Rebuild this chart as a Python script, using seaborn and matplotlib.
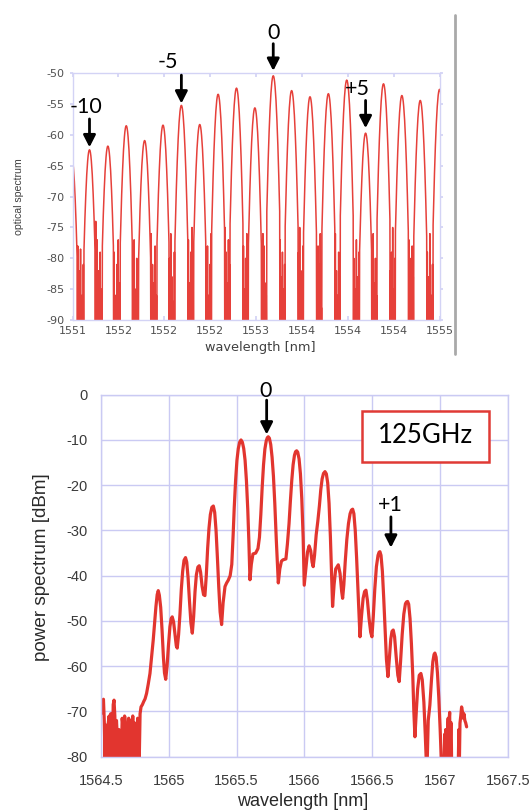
import numpy as np
import pandas as pd
import matplotlib
matplotlib.use("Agg")
import matplotlib.pyplot as plt
import seaborn as sns
from matplotlib.lines import Line2D
from matplotlib.patches import Rectangle

sns.set_theme(style="white")
plt.rcParams['font.family'] = ['DejaVu Sans']

# ---------------- top panel data ----------------
top_peak_order = [-11, -10, -9, -8, -7, -6, -5, -4, -3, -2, -1, 0, 1, 2, 3, 4, 5, 6, 7, 8, 9]
top_peak_nm = [1550.990, 1551.185, 1551.385, 1551.585, 1551.785, 1551.985, 1552.185,
               1552.385, 1552.585, 1552.785, 1552.985, 1553.185, 1553.385, 1553.585,
               1553.785, 1553.985, 1554.190, 1554.385, 1554.585, 1554.785, 1554.995]
top_peak_db = [-63.5, -62.4, -61.8, -58.5, -60.9, -58.4, -55.2, -58.3, -53.4, -52.4, -55.6,
               -50.4, -52.8, -53.8, -53.3, -51.1, -59.7, -51.7, -53.6, -54.4, -52.6]
# line shape of one comb line (offset from centre, drop below top)
peak_profile_nm = [0.0, 0.005, 0.010, 0.015, 0.020, 0.025, 0.030, 0.035, 0.040, 0.045,
                   0.050, 0.055, 0.060, 0.065, 0.070]
peak_profile_db = [0.0, 0.1, 0.45, 1.0, 1.8, 2.8, 4.0, 5.5, 7.2, 9.1,
                   11.2, 13.6, 16.2, 19.0, 22.0]
# noise floor spikes between neighbouring lines
top_noise_db = [
    [-78, -82, -78.5, -86, -81], [-74, -77, -82, -79, -85], [-79, -86, -81, -77, -84],
    [-82, -77, -85, -80, -88], [-76, -81, -84, -78, -86], [-80, -76, -83, -87, -79],
    [-77, -84, -79, -75, -82], [-83, -78, -86, -81, -76], [-75, -79, -84, -77, -81],
    [-78, -85, -80, -76, -83], [-80, -76, -78, -84, -86], [-77, -83, -79, -85, -81],
    [-79, -75, -82, -86, -78], [-84, -78, -81, -76, -88], [-76, -82, -86, -79, -83],
    [-80, -85, -77, -83, -79], [-78, -76, -84, -80, -86], [-82, -79, -75, -85, -80],
    [-77, -84, -80, -78, -83], [-79, -83, -76, -86, -81]]
top_xticks = [1551.0, 1551.5, 1552.0, 1552.5, 1553.0, 1553.5, 1554.0, 1554.5, 1555.0]
top_xticklabels = ['1551', '1552', '1552', '1552', '1553', '1554', '1554', '1554', '1555']
top_yticks = [-90, -85, -80, -75, -70, -65, -60, -55, -50]

# ---------------- bottom panel data ----------------
bot_trace = [
    (1564.500, -70.5), (1564.506, -68.0), (1564.512, -69.5), (1564.518, -67.3), (1564.524, -72.0),
    (1564.530, -80.5), (1564.536, -73.0), (1564.542, -75.0), (1564.548, -80.5), (1564.554, -72.5),
    (1564.560, -71.0), (1564.566, -80.5), (1564.572, -70.5), (1564.578, -73.5), (1564.584, -80.5),
    (1564.590, -68.5), (1564.596, -67.5), (1564.602, -71.0), (1564.608, -80.5), (1564.614, -72.0),
    (1564.620, -75.5), (1564.626, -80.5), (1564.632, -74.0), (1564.638, -80.5), (1564.644, -76.0),
    (1564.650, -80.5), (1564.656, -71.5), (1564.662, -73.0), (1564.668, -80.5), (1564.674, -71.0),
    (1564.680, -72.5), (1564.686, -80.5), (1564.692, -73.5), (1564.698, -80.5), (1564.704, -71.5),
    (1564.710, -80.5), (1564.716, -72.0), (1564.722, -74.5), (1564.728, -80.5), (1564.734, -71.0),
    (1564.740, -80.5), (1564.746, -72.5), (1564.752, -80.5), (1564.758, -74.0), (1564.764, -80.5),
    (1564.770, -71.5), (1564.776, -73.0), (1564.782, -80.5), (1564.788, -70.5), (1564.795, -69.0),
    (1564.805, -68.5), (1564.815, -67.8), (1564.825, -67.2), (1564.836, -66.0), (1564.848, -64.0),
    (1564.861, -61.6), (1564.873, -58.0), (1564.885, -54.2), (1564.896, -50.0), (1564.905, -46.8),
    (1564.914, -44.2), (1564.922, -43.3), (1564.930, -44.3), (1564.940, -47.0), (1564.950, -52.0),
    (1564.960, -58.0), (1564.968, -61.5), (1564.977, -62.9), (1564.987, -60.0), (1564.997, -55.5),
    (1565.008, -51.3), (1565.017, -49.5), (1565.025, -49.1), (1565.035, -50.2), (1565.046, -53.0),
    (1565.055, -55.5), (1565.062, -56.0), (1565.072, -53.0), (1565.082, -48.5), (1565.092, -43.0),
    (1565.102, -39.0), (1565.112, -36.6), (1565.123, -36.0), (1565.132, -37.0), (1565.142, -40.5),
    (1565.152, -45.5), (1565.163, -50.5), (1565.173, -52.7), (1565.183, -49.0), (1565.193, -43.5),
    (1565.203, -39.8), (1565.214, -38.1), (1565.224, -37.8), (1565.234, -39.2), (1565.245, -42.3),
    (1565.256, -44.2), (1565.266, -44.4), (1565.276, -40.0), (1565.286, -34.0), (1565.296, -29.5),
    (1565.306, -26.5), (1565.317, -24.9), (1565.328, -24.6), (1565.338, -26.0), (1565.348, -30.0),
    (1565.358, -36.0), (1565.368, -42.5), (1565.378, -48.0), (1565.389, -50.8), (1565.400, -46.0),
    (1565.414, -42.4), (1565.426, -41.6), (1565.438, -41.0), (1565.452, -40.0), (1565.464, -37.5),
    (1565.474, -31.0), (1565.482, -25.0), (1565.492, -19.0), (1565.502, -14.5), (1565.512, -11.9),
    (1565.522, -10.5), (1565.532, -10.0), (1565.542, -10.5), (1565.552, -11.9), (1565.562, -14.5),
    (1565.572, -19.0), (1565.582, -25.5), (1565.590, -32.5), (1565.598, -40.9), (1565.608, -37.5),
    (1565.620, -35.2), (1565.640, -35.0), (1565.657, -34.0), (1565.668, -31.5), (1565.678, -26.5),
    (1565.688, -20.5), (1565.698, -15.5), (1565.708, -12.0), (1565.718, -10.2), (1565.726, -9.5),
    (1565.733, -9.3), (1565.741, -9.6), (1565.751, -11.0), (1565.761, -13.8), (1565.771, -18.0),
    (1565.781, -24.0), (1565.792, -32.0), (1565.807, -41.6), (1565.818, -38.5), (1565.830, -36.8),
    (1565.841, -36.5), (1565.863, -36.3), (1565.874, -33.0), (1565.886, -28.5), (1565.896, -23.5),
    (1565.906, -19.0), (1565.916, -15.5), (1565.926, -13.4), (1565.934, -12.6), (1565.942, -12.4),
    (1565.950, -12.7), (1565.960, -14.2), (1565.970, -17.5), (1565.980, -23.0), (1565.990, -31.5),
    (1565.998, -42.1), (1566.010, -38.5), (1566.022, -34.8), (1566.034, -33.4), (1566.046, -34.5),
    (1566.056, -37.0), (1566.064, -38.0), (1566.074, -35.5), (1566.086, -31.0), (1566.098, -28.0),
    (1566.110, -24.5), (1566.120, -21.0), (1566.130, -18.6), (1566.140, -17.4), (1566.151, -17.0),
    (1566.161, -17.5), (1566.171, -19.5), (1566.181, -24.0), (1566.191, -31.5), (1566.199, -39.5),
    (1566.207, -46.8), (1566.218, -42.0), (1566.230, -38.5), (1566.249, -37.6), (1566.262, -39.5),
    (1566.274, -43.5), (1566.281, -45.0), (1566.290, -42.0), (1566.300, -37.0), (1566.312, -32.0),
    (1566.324, -28.5), (1566.336, -26.3), (1566.346, -25.5), (1566.355, -25.3), (1566.364, -26.3),
    (1566.374, -30.0), (1566.384, -36.0), (1566.394, -43.0), (1566.402, -49.0), (1566.409, -53.5),
    (1566.420, -49.0), (1566.432, -45.0), (1566.443, -43.5), (1566.453, -43.2), (1566.464, -45.5),
    (1566.476, -49.5), (1566.488, -52.5), (1566.497, -53.5), (1566.507, -49.0), (1566.518, -43.0),
    (1566.530, -38.0), (1566.542, -35.5), (1566.550, -34.8), (1566.556, -34.7), (1566.564, -35.5),
    (1566.574, -39.0), (1566.584, -45.0), (1566.594, -52.0), (1566.604, -58.5), (1566.615, -62.3),
    (1566.625, -58.5), (1566.636, -54.0), (1566.645, -52.3), (1566.654, -52.0), (1566.664, -53.5),
    (1566.676, -58.0), (1566.688, -62.0), (1566.698, -63.4), (1566.708, -59.0), (1566.720, -53.0),
    (1566.732, -48.5), (1566.744, -46.2), (1566.752, -45.8), (1566.760, -45.7), (1566.768, -46.3),
    (1566.778, -49.5), (1566.788, -55.0), (1566.798, -62.0), (1566.806, -70.0), (1566.814, -75.6),
    (1566.824, -70.0), (1566.834, -65.0), (1566.846, -62.0), (1566.858, -61.6), (1566.868, -63.0),
    (1566.880, -68.0), (1566.890, -75.0), (1566.897, -80.5), (1566.905, -80.5), (1566.912, -72.0),
    (1566.924, -68.6), (1566.936, -63.0), (1566.946, -59.0), (1566.955, -57.4), (1566.961, -57.1),
    (1566.970, -58.0), (1566.980, -61.5), (1566.990, -67.0), (1567.000, -74.0), (1567.008, -80.5),
    (1567.030, -80.5), (1567.034, -75.0), (1567.038, -80.5), (1567.041, -74.0), (1567.045, -80.5),
    (1567.049, -76.0), (1567.053, -80.5), (1567.056, -73.5), (1567.059, -71.5), (1567.062, -80.5),
    (1567.066, -72.0), (1567.070, -70.2), (1567.073, -80.5), (1567.077, -73.0), (1567.081, -72.5),
    (1567.084, -80.5), (1567.134, -80.5), (1567.138, -74.0), (1567.142, -80.5), (1567.146, -72.6),
    (1567.152, -71.0), (1567.158, -69.0), (1567.164, -70.0), (1567.170, -71.5), (1567.175, -70.5),
    (1567.182, -72.0), (1567.188, -72.5), (1567.195, -73.4)]
bot_xticks = [1564.5, 1565.0, 1565.5, 1566.0, 1566.5, 1567.0, 1567.5]
bot_xticklabels = ['1564.5', '1565', '1565.5', '1566', '1566.5', '1567', '1567.5']
bot_yticks = [-80, -70, -60, -50, -40, -30, -20, -10, 0]

# ---------------- build top trace ----------------
FLOOR_CUT = -80.0
tx, ty = [], []
prev_end = None
for i, (c, p) in enumerate(zip(top_peak_nm, top_peak_db)):
    keep = [(o, d) for o, d in zip(peak_profile_nm, peak_profile_db) if p - d >= FLOOR_CUT]
    if prev_end is not None:
        start = prev_end
        end = c - keep[-1][0]
        noise = top_noise_db[i - 1]
        n = len(noise)
        tx.append(start + 0.002); ty.append(-92)
        for j, lev in enumerate(noise):
            xj = start + (end - start) * (j + 0.5) / n
            tx += [xj - 0.002, xj, xj + 0.002]
            ty += [-92, lev, -92]
        tx.append(end - 0.002); ty.append(-92)
    for o, d in keep[::-1]:
        tx.append(c - o); ty.append(p - d)
    for o, d in keep[1:]:
        tx.append(c + o); ty.append(p - d)
    prev_end = c + keep[-1][0]
top_df = pd.DataFrame({'nm': tx, 'dB': ty})
bot_df = pd.DataFrame(bot_trace, columns=['nm', 'dB'])

W, H = 531, 810
fig = plt.figure(figsize=(W / 100, H / 100), dpi=100, facecolor='white')

frame_col = '#d3d3f5'
grid_col = '#cacaf3'
red_top = '#e6403a'
red_bot = '#e2352f'

# ---------------- top axes ----------------
ax1 = fig.add_axes([72.5 / W, 1 - 320 / H, (440 - 72.5) / W, (320 - 73.3) / H])
sns.lineplot(data=top_df, x='nm', y='dB', sort=False, estimator=None,
             color=red_top, lw=1.1, ax=ax1, legend=False)
ax1.set_xlim(1551.0, 1555.0)
ax1.set_ylim(-90, -50)
ax1.set_xticks(top_xticks)
ax1.set_xticklabels(top_xticklabels)
ax1.set_yticks(top_yticks)
ax1.set_yticklabels([str(v) for v in top_yticks])
for s in ax1.spines.values():
    s.set_color(frame_col); s.set_linewidth(1.0); s.set_visible(True)
ax1.tick_params(axis='x', which='both', direction='in', length=3, color=frame_col,
                labelsize=8, labelcolor='#505050', pad=4, top=True, bottom=True)
ax1.tick_params(axis='y', which='both', direction='out', length=2.5, color=frame_col,
                labelsize=8, labelcolor='#505050', pad=3, left=True)
ax1.tick_params(axis='y', which='both', right=True)
ax1.set_xlabel('wavelength [nm]', fontsize=9.3, color='#404040')
ax1.xaxis.label.set_va('center')
ax1.xaxis.set_label_coords((260 - 72.5) / 367.5, -(347 - 320) / 246.7)
ax1.set_ylabel('optical spectrum', fontsize=7.6, color='#404040',
               family=['Liberation Sans Narrow', 'Liberation Sans', 'DejaVu Sans'])
ax1.yaxis.label.set_va('center')
ax1.yaxis.set_label_coords((19 - 72.5) / 367.5, (320 - 197) / 246.7)

arrow_kw = dict(arrowstyle='-|>,head_length=0.55,head_width=0.28', color='black',
                lw=2.0, mutation_scale=13, shrinkA=0, shrinkB=0)
lab_font = dict(family=['Lato', 'DejaVu Sans'], fontsize=15.5, color='black',
                ha='center', va='center')

top_labels = [('-10', 1551.152, -55.5, 1551.185, -57.4, -62.0),
              ('-5', 1552.043, -48.2, 1552.185, -50.3, -54.9),
              ('0', 1553.185, -43.5, 1553.185, -45.2, -49.6),
              ('+5', 1554.098, -52.5, 1554.190, -54.4, -58.9)]
for txt, lx, ly, axx, ay0, ay1 in top_labels:
    ax1.text(lx, ly, txt, clip_on=False, **lab_font)
    ax1.annotate('', xy=(axx, ay1), xytext=(axx, ay0), arrowprops=arrow_kw,
                 annotation_clip=False)

# ---------------- bottom axes ----------------
ax2 = fig.add_axes([101 / W, 1 - 756.7 / H, (508 - 101) / W, (756.7 - 394.7) / H])
sns.lineplot(data=bot_df, x='nm', y='dB', sort=False, estimator=None,
             color=red_bot, lw=2.3, ax=ax2, legend=False)
ax2.set_xlim(1564.5, 1567.5)
ax2.set_ylim(-80, 0)
ax2.set_xticks(bot_xticks)
ax2.set_xticklabels(bot_xticklabels)
ax2.set_yticks(bot_yticks)
ax2.set_yticklabels([str(v) for v in bot_yticks])
ax2.grid(True, color=grid_col, lw=1.0)
ax2.set_axisbelow(True)
for s in ax2.spines.values():
    s.set_color(grid_col); s.set_linewidth(1.0); s.set_visible(True)
ax2.tick_params(axis='both', length=0, labelsize=10.5, labelcolor='#3a3a3a',
                labelfontfamily='Liberation Sans')
ax2.tick_params(axis='x', pad=12.5)
ax2.tick_params(axis='y', pad=9.5)
ax2.set_xlabel('wavelength [nm]', fontsize=13, color='#2a2a2a', family='Liberation Sans')
ax2.xaxis.label.set_va('center')
ax2.xaxis.set_label_coords((303 - 101) / 407, -(801 - 756.7) / 362)
ax2.set_ylabel('power spectrum [dBm]', fontsize=13.6, color='#2a2a2a', family='Liberation Sans')
ax2.yaxis.label.set_va('center')
ax2.yaxis.set_label_coords((42 - 101) / 407, (756.7 - 567.5) / 362)

bot_labels = [('0', 1565.716, 0.8, 1565.721, -1.2, -8.8),
              ('+1', 1566.630, -24.4, 1566.637, -27.0, -33.8)]
for txt, lx, ly, axx, ay0, ay1 in bot_labels:
    ax2.text(lx, ly, txt, clip_on=False, **lab_font)
    ax2.annotate('', xy=(axx, ay1), xytext=(axx, ay0), arrowprops=arrow_kw,
                 annotation_clip=False)

ax2.add_patch(Rectangle((1566.421, -14.8), 1567.361 - 1566.421, 11.2, fill=True,
                        facecolor='white', edgecolor='#e03a35', lw=1.8, zorder=5))
ax2.text(1566.888, -9.1, '125GHz', family=['Lato', 'DejaVu Sans'], fontsize=18.5,
         color='black', ha='center', va='center', zorder=6)

# gray separator line at right of the upper panel
fig.add_artist(Line2D([455 / W, 455 / W], [1 - 15 / H, 1 - 354 / H],
                      color='#a9a9a9', lw=2.0))

fig.savefig('out.png', dpi=100, facecolor='white')
